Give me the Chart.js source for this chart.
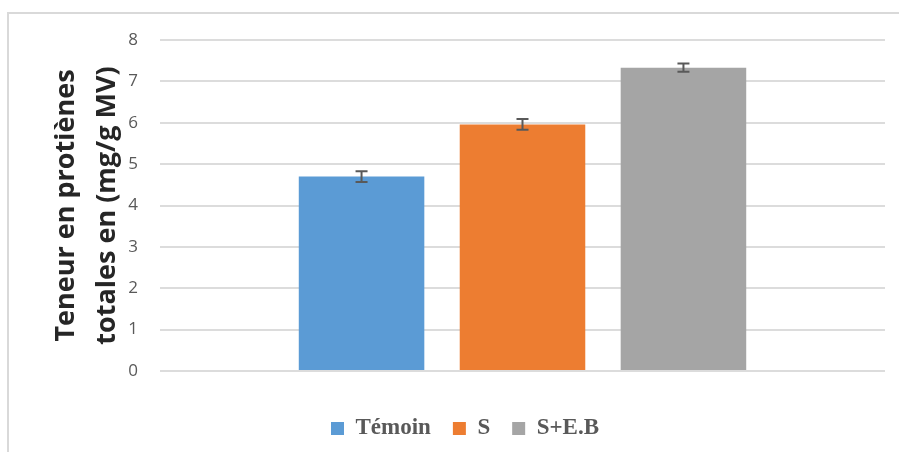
<!DOCTYPE html>
<html>
<head>
<meta charset="utf-8">
<script src="https://cdn.jsdelivr.net/npm/chart.js@4"></script>
<style>
  body { margin: 0; background: #fff; }
  #cadre { position: absolute; left: 7px; top: 12px; width: 1000px; height: 1000px; border: 2px solid #d9d9d9; box-sizing: border-box; }
  #zone { position: absolute; left: 0; top: 0; width: 899px; height: 452px; }
</style>
</head>
<body>
<div id="cadre"></div>
<div id="zone"><canvas id="graphe1"></canvas></div>
<script>
// les données
var traitements = ['Témoin', 'S', 'S+E.B'];
var proteines = [4.70, 5.96, 7.33];       // mg/g MV
var erreurs = [0.13, 0.13, 0.10];         // barres d'erreur (+/-)
var couleurs = ['#5B9BD5', '#ED7D31', '#A5A5A5'];
var graduations = [0, 1, 2, 3, 4, 5, 6, 7, 8];

// un dataset par traitement pour avoir la légende
var lesDatasets = [];
for (var i = 0; i < traitements.length; i++) {
    lesDatasets.push({
        label: traitements[i],
        data: [proteines[i]],
        erreur: erreurs[i],
        backgroundColor: couleurs[i],
        borderWidth: 0
    });
}

// petit plugin maison pour les barres d'erreur
var barresErreur = {
    id: 'barresErreur',
    afterDatasetsDraw: function(chart) {
        var ctx = chart.ctx;
        var echelleY = chart.scales.y;
        ctx.save();
        ctx.strokeStyle = '#595959';
        ctx.lineWidth = 2;
        chart.data.datasets.forEach(function(ds, i) {
            var meta = chart.getDatasetMeta(i);
            meta.data.forEach(function(barre, j) {
                var v = ds.data[j];
                var haut = echelleY.getPixelForValue(v + ds.erreur);
                var bas = echelleY.getPixelForValue(v - ds.erreur);
                ctx.beginPath();
                ctx.moveTo(barre.x, haut);
                ctx.lineTo(barre.x, bas);
                ctx.moveTo(barre.x - 6, haut);
                ctx.lineTo(barre.x + 6, haut);
                ctx.moveTo(barre.x - 6, bas);
                ctx.lineTo(barre.x + 6, bas);
                ctx.stroke();
            });
        });
        ctx.restore();
    }
};

var myChart1 = new Chart(document.getElementById('graphe1'), {
    type: 'bar',
    data: {
        labels: [''],
        datasets: lesDatasets
    },
    plugins: [barresErreur],
    options: {
        responsive: true,
        maintainAspectRatio: false,
        animation: false,
        categoryPercentage: 0.666,
        barPercentage: 0.78,
        layout: {
            padding: { top: 40, right: 14, left: 45, bottom: 2 }
        },
        plugins: {
            tooltip: { enabled: false },
            legend: {
                position: 'bottom',
                labels: {
                    boxWidth: 13,
                    boxHeight: 13,
                    padding: 22,
                    color: '#595959',
                    font: { family: 'Liberation Serif', size: 23, weight: 'bold' }
                }
            }
        },
        scales: {
            x: {
                display: true,
                ticks: { display: false },
                grid: { display: false, drawTicks: false },
                border: { display: false },
                afterFit: function(s) { s.height = 24; }
            },
            y: {
                min: 0,
                max: 8,
                afterBuildTicks: function(s) {
                    s.ticks = graduations.map(function(v) { return { value: v }; });
                },
                afterFit: function(s) { s.width = 115; },
                ticks: {
                    padding: 22,
                    color: '#595959',
                    font: { family: 'Open Sans', size: 17 }
                },
                grid: { color: '#dcdcdc', lineWidth: 2, drawTicks: false },
                border: { display: false },
                title: {
                    display: true,
                    text: ['Teneur en protiènes', 'totales en (mg/g MV)'],
                    color: '#262626',
                    padding: { top: 0, bottom: 0 },
                    font: { family: 'Open Sans', size: 27, weight: 'bold', lineHeight: 1.55 }
                }
            }
        }
    }
});
</script>
</body>
</html>
